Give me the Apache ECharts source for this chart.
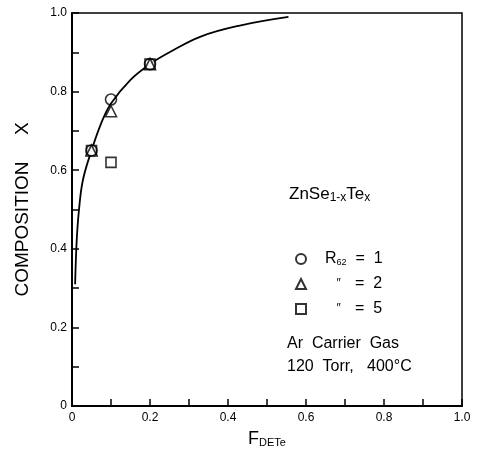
<!DOCTYPE html>
<html>
<head>
<meta charset="utf-8">
<script src="https://cdn.jsdelivr.net/npm/echarts@6/dist/echarts.min.js"></script>
<style>html,body{margin:0;padding:0;background:#fff}#c{width:478px;height:454px}</style>
</head>
<body>
<div id="c"></div>
<script>
// Data
const xPoints = [0.05, 0.10, 0.20];
const ratio1 = [0.65, 0.78, 0.87];   // circles, R62 = 1
const ratio2 = [0.65, 0.75, 0.87];   // triangles, R62 = 2
const ratio5 = [0.65, 0.62, 0.87];   // squares, R62 = 5
const curveX = [0.008, 0.012, 0.018, 0.028, 0.05, 0.075, 0.10, 0.15, 0.20, 0.25, 0.33, 0.43, 0.555];
const curveY = [0.31, 0.42, 0.50, 0.575, 0.65, 0.72, 0.77, 0.83, 0.87, 0.90, 0.94, 0.968, 0.99];
const tickLabels = ['0', '0.2', '0.4', '0.6', '0.8', '1.0'];

const pairs = (xs, ys) => xs.map((x, i) => [x, ys[i]]);
const FONT = 'Liberation Sans';

function tickFmt(v) {
  const k = Math.round(v * 10);
  return k % 2 === 0 ? tickLabels[k / 2] : '';
}

const axisCommon = {
  min: 0, max: 1, interval: 0.1,
  axisLine: {show: true, lineStyle: {color: '#000', width: 2}},
  axisTick: {show: true, inside: true, length: 7, lineStyle: {color: '#000', width: 1.5}},
  splitLine: {show: false},
  axisLabel: {formatter: tickFmt, color: '#000', fontFamily: FONT, fontSize: 12, showMinLabel: true, showMaxLabel: true}
};

const markerStyle = {color: '#fff', borderColor: '#000', borderWidth: 1.6};

const chart = echarts.init(document.getElementById('c'));
chart.setOption({
  animation: false,
  backgroundColor: '#fff',
  grid: {left: 72, right: 16, top: 13, bottom: 48, show: true, borderColor: '#000', borderWidth: 1.5, backgroundColor: 'transparent'},
  xAxis: Object.assign({}, axisCommon, {
    type: 'value',
    name: '{f|F}{s|DETe}',
    nameLocation: 'middle',
    nameGap: 24,
    nameTextStyle: {rich: {
      f: {fontFamily: FONT, fontSize: 18, color: '#000'},
      s: {fontFamily: FONT, fontSize: 11, color: '#000', verticalAlign: 'bottom', padding: [6, 0, 0, 0]}
    }},
    axisLabel: Object.assign({}, axisCommon.axisLabel, {margin: 6})
  }),
  yAxis: Object.assign({}, axisCommon, {
    type: 'value',
    name: 'COMPOSITION     X',
    nameLocation: 'middle',
    nameGap: 40,
    nameTextStyle: {fontFamily: FONT, fontSize: 19, color: '#000'},
    axisLabel: Object.assign({}, axisCommon.axisLabel, {margin: 5})
  }),
  legend: {
    orient: 'vertical',
    left: 290, top: 246,
    itemWidth: 10, itemHeight: 10, itemGap: 9,
    data: ['R62 = 1', 'R62 = 2', 'R62 = 5'],
    formatter: function (name) {
      if (name === 'R62 = 1') return '{r|R}{s|62}{e|=  1}';
      return '{q|\u2033}{e|=  ' + name.slice(-1) + '}';
    },
    textStyle: {
      fontFamily: FONT, fontSize: 15, color: '#000', padding: [0, 0, 0, 14],
      rich: {
        r: {fontFamily: FONT, fontSize: 16, color: '#000'},
        s: {fontFamily: FONT, fontSize: 9, color: '#000', width: 16, verticalAlign: 'bottom', padding: [5, 0, 0, 0]},
        q: {fontFamily: FONT, fontSize: 12, color: '#000', width: 27, align: 'center'},
        e: {fontFamily: FONT, fontSize: 16, color: '#000', padding: [0, 0, 0, 3]}
      }
    }
  },
  graphic: [
    {type: 'text', left: 289, top: 186, style: {
      text: '{a|ZnSe}{b|1-x}{a|Te}{b|x}',
      rich: {
        a: {fontFamily: FONT, fontSize: 17, fill: '#000'},
        b: {fontFamily: FONT, fontSize: 12, fill: '#000', verticalAlign: 'bottom', padding: [7, 0, 0, 0]}
      }
    }},
    {type: 'text', left: 287, top: 336, style: {text: 'Ar  Carrier  Gas', fontFamily: FONT, fontSize: 16, fill: '#000'}},
    {type: 'text', left: 287, top: 359, style: {text: '120  Torr,   400\u00B0C', fontFamily: FONT, fontSize: 16, fill: '#000'}}
  ],
  series: [
    {name: 'curve', type: 'line', data: pairs(curveX, curveY), smooth: 0.4, showSymbol: false, symbol: 'none',
     lineStyle: {color: '#000', width: 1.8}, z: 1, silent: true},
    {name: 'R62 = 5', type: 'scatter', data: pairs(xPoints, ratio5), symbol: 'rect', symbolSize: 10, itemStyle: markerStyle, z: 3},
    {name: 'R62 = 2', type: 'scatter', data: pairs(xPoints, ratio2), symbol: 'triangle', symbolSize: 11, itemStyle: markerStyle, z: 4},
    {name: 'R62 = 1', type: 'scatter', data: pairs(xPoints, ratio1), symbol: 'circle', symbolSize: 11, itemStyle: {color: 'transparent', borderColor: '#000', borderWidth: 1.6}, z: 5}
  ]
});
</script>
</body>
</html>
